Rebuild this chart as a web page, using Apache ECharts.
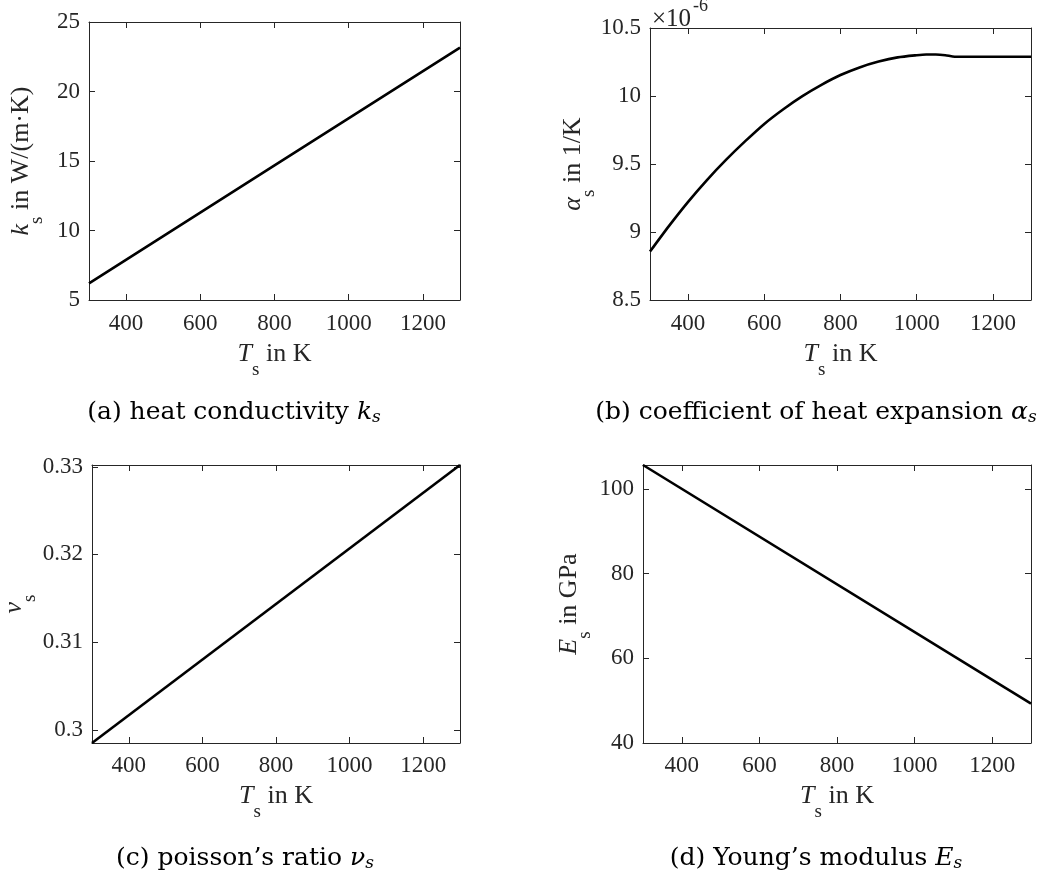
<!DOCTYPE html>
<html>
<head>
<meta charset="utf-8">
<script src="https://cdn.jsdelivr.net/npm/echarts@6/dist/echarts.min.js"></script>
<style>
  html, body { margin: 0; padding: 0; background: #fff; }
  #chart { width: 1040px; height: 878px; }
</style>
</head>
<body>
<div id="chart"></div>
<script>
// Shared temperature axis (K)
const T_RANGE = [300, 1300];
const T_TICKS = [400, 600, 800, 1000, 1200];

// (a) heat conductivity k_s in W/(m·K)
const T_K = [300, 800, 1300];
const K_VALUES = [6.2, 14.68, 23.15];
const K_TICKS = [5, 10, 15, 20, 25];
const K_RANGE = [5, 25];

// (b) coefficient of heat expansion alpha_s, in units of 1e-6 1/K
const T_ALPHA = [300, 350, 400, 450, 500, 550, 600, 650, 700, 750, 800, 850, 900, 950,
                 1000, 1025, 1050, 1075, 1100, 1150, 1200, 1250, 1300];
const ALPHA_VALUES = [8.856, 9.045, 9.222, 9.384, 9.532, 9.668, 9.795, 9.903, 9.999, 10.082,
                      10.154, 10.21, 10.253, 10.284, 10.30, 10.305, 10.305, 10.300, 10.289,
                      10.289, 10.289, 10.289, 10.289];
const ALPHA_TICKS = [8.5, 9, 9.5, 10, 10.5];
const ALPHA_RANGE = [8.5, 10.5];

// (c) poisson's ratio nu_s
const T_NU = [300, 1300];
const NU_VALUES = [0.2985, 0.3302];
const NU_TICKS = [0.30, 0.31, 0.32, 0.33];
const NU_RANGE = [Math.min(...NU_VALUES), Math.max(...NU_VALUES)];

// (d) Young's modulus E_s in GPa
const T_E = [300, 1300];
const E_VALUES = [105.67, 49.28];
const E_TICKS = [40, 60, 80, 100];
const E_RANGE = [40, Math.max(...E_VALUES)];

const FONT = 'Liberation Serif';
const CAP_FONT = 'DejaVu Serif';
const INK = '#262626';

// rich styles for axis titles: m = italic symbol, s = subscript, r = plain rest
function nameRich() {
  return {
    m: { fontFamily: FONT, fontStyle: 'italic', fontSize: 26, lineHeight: 30, color: INK },
    s: { fontFamily: FONT, fontSize: 19, lineHeight: 20, padding: [32, 0, 0, 0], color: INK },
    r: { fontFamily: FONT, fontSize: 26, lineHeight: 30, color: INK }
  };
}

const X_NAME = '{m|T}{s|s}{r| in K}';

const panels = [
  { grid: { left: 89, top: 22, width: 371, height: 278 },
    x: T_K, y: K_VALUES, yRange: K_RANGE, yTicks: K_TICKS,
    yName: '{m|k}{s|s}{r| in W/(m·K)}', yGap: 53, xGap: 39, xMargin: 12 },
  { grid: { left: 650, top: 28, width: 381, height: 272 },
    x: T_ALPHA, y: ALPHA_VALUES, yRange: ALPHA_RANGE, yTicks: ALPHA_TICKS, smooth: 0.25,
    yName: '{m|α}{s|s}{r| in 1/K}', yGap: 62, xGap: 39, xMargin: 12 },
  { grid: { left: 92, top: 465, width: 368, height: 278 },
    x: T_NU, y: NU_VALUES, yRange: NU_RANGE, yTicks: NU_TICKS,
    yName: '{m|ν}{s|s}', yGap: 63, xGap: 38, xMargin: 11 },
  { grid: { left: 643, top: 465, width: 388, height: 278 },
    x: T_E, y: E_VALUES, yRange: E_RANGE, yTicks: E_TICKS,
    yName: '{m|E}{s|s}{r| in GPa}', yGap: 59, xGap: 38, xMargin: 11 }
];

function makeAxis(gridIndex, position, range, ticks, showLabel, name, nameGap, labelMargin) {
  return {
    type: 'value', gridIndex, position,
    min: range[0], max: range[1],
    axisLine: { show: true, onZero: false, lineStyle: { color: INK, width: 1 } },
    axisTick: { show: true, inside: true, length: 6, customValues: ticks,
                lineStyle: { color: INK, width: 1 } },
    axisLabel: { show: showLabel, customValues: ticks, margin: labelMargin || 8,
                 formatter: v => String(v),
                 fontFamily: FONT, fontSize: 23, color: INK },
    splitLine: { show: false },
    name: name || '', nameLocation: 'middle', nameGap: nameGap || 0,
    nameMoveOverlap: false,
    nameTextStyle: { rich: nameRich() }
  };
}

const grids = [], xAxes = [], yAxes = [], series = [];
panels.forEach((p, i) => {
  grids.push(Object.assign({ outerBoundsMode: 'none', containLabel: false }, p.grid));
  xAxes.push(makeAxis(i, 'bottom', T_RANGE, T_TICKS, true, X_NAME, p.xGap, p.xMargin));
  xAxes.push(makeAxis(i, 'top', T_RANGE, T_TICKS, false));
  yAxes.push(makeAxis(i, 'left', p.yRange, p.yTicks, true, p.yName, p.yGap, 9));
  yAxes.push(makeAxis(i, 'right', p.yRange, p.yTicks, false));
  series.push({
    type: 'line', xAxisIndex: 2 * i, yAxisIndex: 2 * i,
    data: p.x.map((t, j) => [t, p.y[j]]),
    showSymbol: false, smooth: p.smooth || false, silent: true,
    lineStyle: { color: '#000', width: 2.6 }
  });
});

// caption rich styles: t = text, m = math italic, c = italic subscript
const capRich = {
  t: { fontFamily: CAP_FONT, fontSize: 25, lineHeight: 28, color: '#000' },
  m: { fontFamily: CAP_FONT, fontStyle: 'italic', fontSize: 25, lineHeight: 28, color: '#000' },
  c: { fontFamily: CAP_FONT, fontStyle: 'italic', fontSize: 17, lineHeight: 18,
       padding: [12, 0, 0, 0], color: '#000' }
};
const CAPTIONS = [
  { text: '{t|(a) heat conductivity }{m|k}{c|s}', x: 234, y: 412 },
  { text: '{t|(b) coefficient of heat expansion }{m|α}{c|s}', x: 816, y: 412 },
  { text: '{t|(c) poisson’s ratio }{m|ν}{c|s}', x: 245, y: 858 },
  { text: '{t|(d) Young’s modulus }{m|E}{c|s}', x: 816, y: 858 }
];

const graphic = CAPTIONS.map(c => ({
  type: 'text', x: c.x, y: c.y, silent: true,
  style: { text: c.text, rich: capRich, align: 'center', verticalAlign: 'middle' }
}));

// exponent marker for panel (b)
graphic.push({
  type: 'text', x: 652, y: 19, silent: true,
  style: { text: '×10', fontFamily: FONT, fontSize: 25, fill: INK,
           align: 'left', verticalAlign: 'middle' }
});
graphic.push({
  type: 'text', x: 693, y: 6, silent: true,
  style: { text: '-6', fontFamily: FONT, fontSize: 18, fill: INK,
           align: 'left', verticalAlign: 'middle' }
});

const chart = echarts.init(document.getElementById('chart'), null, { renderer: 'canvas' });
chart.setOption({
  animation: false,
  backgroundColor: '#fff',
  grid: grids,
  xAxis: xAxes,
  yAxis: yAxes,
  series,
  graphic
});
</script>
</body>
</html>
